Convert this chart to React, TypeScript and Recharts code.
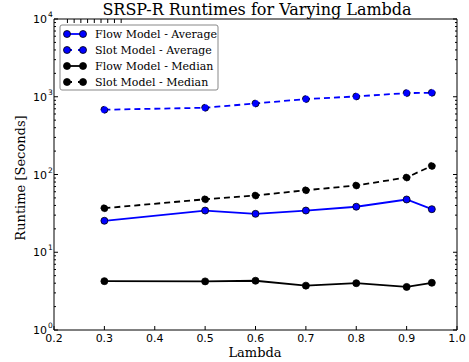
import React from "react";
import { LineChart, Line, XAxis, YAxis } from "recharts";

// lambda values (x)
const lambdas = [0.3, 0.5, 0.6, 0.7, 0.8, 0.9, 0.95];

// runtimes in seconds
const flowAverage = [25.4, 34.4, 31.2, 34.4, 38.5, 47.7, 35.8];
const slotAverage = [681, 722, 820, 934, 1010, 1115, 1125];
const flowMedian = [4.25, 4.22, 4.3, 3.72, 4.0, 3.58, 4.05];
const slotMedian = [36.9, 48, 53.7, 62.8, 72.3, 91.5, 129];

const xTicks = [0.2, 0.3, 0.4, 0.5, 0.6, 0.7, 0.8, 0.9, 1.0];
const yMajor = [1, 10, 100, 1000, 10000];
const yTicks: number[] = [];
for (let d = 0; d < 4; d++) {
  for (let m = 1; m < 10; m++) yTicks.push(m * Math.pow(10, d));
}
yTicks.push(10000);

const data = lambdas.map((l, i) => ({
  lambda: l,
  flowAvg: flowAverage[i],
  slotAvg: slotAverage[i],
  flowMed: flowMedian[i],
  slotMed: slotMedian[i],
}));

const legendItems = [
  { name: "Flow Model - Average", color: "#0000ff", dash: false },
  { name: "Slot Model - Average", color: "#0000ff", dash: true },
  { name: "Flow Model - Median", color: "#000000", dash: false },
  { name: "Slot Model - Median", color: "#000000", dash: true },
];

const SANS = "DejaVu Sans, sans-serif";
const SERIF = "DejaVu Serif, serif";

const isMajor = (v: number) => yMajor.includes(v);

const LeftTick = (props: any) => {
  const { x, y, payload } = props;
  const v = payload.value;
  const major = isMajor(v);
  const e = Math.round(Math.log10(v));
  return (
    <g>
      <line x1={x} x2={x + (major ? 4 : 2)} y1={y} y2={y} stroke="#000" strokeWidth={1} />
      {major && (
        <text x={x - 7} y={y + 4} textAnchor="end" fontFamily={SANS} fontSize={11} fill="#000">
          10
        </text>
      )}
      {major && (
        <text x={x - 6} y={y - 2} textAnchor="start" fontFamily={SANS} fontSize={7.5} fill="#000">
          {e}
        </text>
      )}
    </g>
  );
};

const RightTick = (props: any) => {
  const { x, y, payload } = props;
  const major = isMajor(payload.value);
  return <line x1={x} x2={x - (major ? 4 : 2)} y1={y} y2={y} stroke="#000" strokeWidth={1} />;
};

const BottomTick = (props: any) => {
  const { x, y, payload } = props;
  return (
    <g>
      <line x1={x} x2={x} y1={y} y2={y - 4} stroke="#000" strokeWidth={1} />
      <text x={x} y={y + 12} textAnchor="middle" fontFamily={SANS} fontSize={11} fill="#000">
        {payload.value.toFixed(1)}
      </text>
    </g>
  );
};

const TopTick = (props: any) => {
  const { x, y } = props;
  return <line x1={x} x2={x} y1={y} y2={y + 4} stroke="#000" strokeWidth={1} />;
};

const dot = (color: string) => ({ r: 3.5, fill: color, stroke: "#000", strokeWidth: 0.8 });

export default function App() {
  return (
    <div style={{ position: "absolute", left: 0, top: 0, background: "#fff" }}>
      <LineChart
        width={469}
        height={362}
        data={data}
        margin={{ top: 17, right: 10, bottom: 12, left: 14 }}
      >
        <XAxis
          dataKey="lambda"
          type="number"
          domain={[0.2, 1.0]}
          ticks={xTicks}
          height={20}
          tickSize={0}
          tickMargin={0}
          tickLine={false}
          tick={BottomTick}
          axisLine={{ stroke: "#000" }}
          interval={0}
        />
        <XAxis
          xAxisId="top"
          orientation="top"
          type="number"
          domain={[0.2, 1.0]}
          ticks={xTicks}
          height={2}
          tickSize={0}
          tickMargin={0}
          tickLine={false}
          tick={TopTick}
          axisLine={{ stroke: "#000" }}
          interval={0}
        />
        <YAxis
          scale="log"
          type="number"
          domain={[1, 10000]}
          ticks={yTicks}
          width={40}
          tickSize={0}
          tickMargin={0}
          tickLine={false}
          tick={LeftTick}
          axisLine={{ stroke: "#000" }}
          interval={0}
          allowDataOverflow
        />
        <YAxis
          yAxisId="right"
          orientation="right"
          scale="log"
          type="number"
          domain={[1, 10000]}
          ticks={yTicks}
          width={2}
          tickSize={0}
          tickMargin={0}
          tickLine={false}
          tick={RightTick}
          axisLine={{ stroke: "#000" }}
          interval={0}
          allowDataOverflow
        />
        <Line
          dataKey="flowAvg"
          stroke="#0000ff"
          strokeWidth={1.8}
          dot={dot("#0000ff")}
          isAnimationActive={false}
        />
        <Line
          dataKey="slotAvg"
          stroke="#0000ff"
          strokeWidth={1.8}
          strokeDasharray="6 4"
          dot={dot("#0000ff")}
          isAnimationActive={false}
        />
        <Line
          dataKey="flowMed"
          stroke="#000000"
          strokeWidth={1.8}
          dot={dot("#000000")}
          isAnimationActive={false}
        />
        <Line
          dataKey="slotMed"
          stroke="#000000"
          strokeWidth={1.8}
          strokeDasharray="6 4"
          dot={dot("#000000")}
          isAnimationActive={false}
        />
        <text x={257} y={15} textAnchor="middle" fontFamily={SERIF} fontSize={16} fill="#000">
          SRSP-R Runtimes for Varying Lambda
        </text>
        <text x={255} y={357} textAnchor="middle" fontFamily={SERIF} fontSize={13} fill="#000">
          Lambda
        </text>
        <text
          x={0}
          y={0}
          transform="translate(25 178) rotate(-90)"
          textAnchor="middle"
          fontFamily={SERIF}
          fontSize={13}
          fill="#000"
        >
          Runtime [Seconds]
        </text>
        <g>
          <rect x={60} y={25} width={158} height={65} rx={2} fill="#fff" stroke="#888" strokeWidth={1} />
          {legendItems.map((it, i) => {
            const cy = 34 + i * 16;
            return (
              <g key={it.name}>
                <line
                  x1={67}
                  x2={83}
                  y1={cy}
                  y2={cy}
                  stroke={it.color}
                  strokeWidth={1.8}
                  strokeDasharray={it.dash ? "5 6" : undefined}
                />
                <circle cx={67} cy={cy} r={3.5} fill={it.color} stroke="#000" strokeWidth={0.8} />
                <circle cx={83} cy={cy} r={3.5} fill={it.color} stroke="#000" strokeWidth={0.8} />
                <text x={95} y={cy + 4} fontFamily={SERIF} fontSize={11} fill="#000">
                  {it.name}
                </text>
              </g>
            );
          })}
        </g>
      </LineChart>
    </div>
  );
}
